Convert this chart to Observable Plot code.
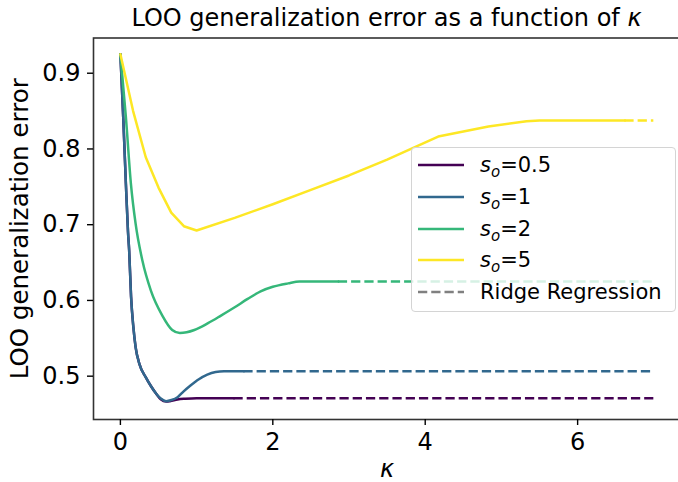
<!DOCTYPE html>
<html>
<head>
<meta charset="utf-8">
<script src="https://cdn.jsdelivr.net/npm/d3@7"></script>
<script src="https://cdn.jsdelivr.net/npm/@observablehq/plot@0.6"></script>
<style>
  html, body { margin: 0; padding: 0; background: #fff; overflow: hidden; }
  body { font-family: "DejaVu Sans", sans-serif; color: #000; }
  #wrap { position: relative; width: 680px; height: 482px; }
  #title { position: absolute; left: 93px; width: 587px; top: 0; height: 36px; line-height: 36px;
           text-align: center; font-size: 24px; white-space: nowrap; }
  #chart { position: absolute; left: 0; top: 30px; }
  #legend { position: absolute; left: 411px; top: 147px; width: 265px; height: 165px; box-sizing: border-box;
            border: 1px solid #d4d4d4; border-radius: 4px; background: rgba(255,255,255,0.8); }
  .row { position: absolute; left: 0; height: 32px; width: 262px; }
  .row svg { position: absolute; left: 6px; top: 0; }
  .row span { position: absolute; left: 68px; top: 0; height: 32px; line-height: 32px; font-size: 21px; white-space: nowrap; }
  .row sub { font-size: 15px; vertical-align: -5px; line-height: 0; }
</style>
</head>
<body>
<div id="wrap">
  <div id="title">LOO generalization error as a function of <i>κ</i></div>
  <div id="chart"></div>
  <div id="legend"></div>
</div>
<script>
// ---- data ----
const seriesLabels = ["0.5", "1", "2", "5"];
const seriesColors = ["#440154", "#31688e", "#35b779", "#fde725"];

const kappa05 = [0, 0.037, 0.072, 0.1, 0.115, 0.14, 0.17, 0.2, 0.25, 0.33, 0.4, 0.47, 0.53, 0.6, 0.65, 0.75, 0.85, 1.0, 1.49];
const err05   = [0.925, 0.842, 0.754, 0.69, 0.666, 0.605, 0.565, 0.538, 0.516, 0.499, 0.487, 0.4768, 0.4695, 0.4665, 0.467, 0.4692, 0.4702, 0.471, 0.471];

const kappa1 = [0, 0.037, 0.072, 0.1, 0.115, 0.14, 0.17, 0.2, 0.25, 0.33, 0.4, 0.47, 0.53, 0.6, 0.67, 0.75, 0.83, 0.92, 1.03, 1.14, 1.25, 1.36, 1.62];
const err1   = [0.925, 0.842, 0.754, 0.69, 0.666, 0.605, 0.565, 0.538, 0.516, 0.499, 0.487, 0.4768, 0.4705, 0.467, 0.4685, 0.4723, 0.48, 0.4877, 0.496, 0.502, 0.5055, 0.5066, 0.5066];

const kappa2 = [0, 0.072, 0.138, 0.2, 0.29, 0.4, 0.55, 0.68, 0.78, 0.87, 0.97, 1.15, 1.32, 1.5, 1.67, 1.84, 2.0, 2.2, 2.35, 2.86];
const err2   = [0.925, 0.842, 0.754, 0.701, 0.652, 0.613, 0.58, 0.561, 0.557, 0.558, 0.561, 0.57, 0.58, 0.591, 0.602, 0.612, 0.618, 0.6225, 0.625, 0.625];

const kappa5 = [0, 0.167, 0.333, 0.5, 0.667, 0.833, 1.0, 1.5, 2.0, 2.5, 3.0, 3.5, 4.17, 4.83, 5.33, 5.5, 6.62];
const err5   = [0.925, 0.85, 0.789, 0.749, 0.716, 0.698, 0.6923, 0.709, 0.727, 0.746, 0.765, 0.786, 0.8164, 0.8296, 0.8366, 0.8375, 0.8375];

// Ridge regression (dashed) levels and where they start
const ridgeValue = [0.471, 0.5066, 0.625, 0.8375];
const ridgeStart = [1.49, 1.62, 2.86, 6.62];
const kappaMax = 7;

const xTicks = [0, 2, 4, 6];
const yTicks = [0.5, 0.6, 0.7, 0.8, 0.9];

// ---- build ----
const kappas = [kappa05, kappa1, kappa2, kappa5];
const errs = [err05, err1, err2, err5];
const curves = ["monotone-x", "monotone-x", "monotone-x", "linear"];

const lineMarks = kappas.map((ks, i) =>
  Plot.line(ks.map((k, j) => ({k, e: errs[i][j]})), {
    x: "k", y: "e", stroke: seriesColors[i], strokeWidth: 2.5, curve: curves[i]
  })
);

const ridgeRows = ridgeValue.map((v, i) => ({v, start: ridgeStart[i], end: kappaMax, c: seriesColors[i]}));

const chart = Plot.plot({
  width: 680, height: 452,
  marginLeft: 93, marginRight: 0, marginTop: 7.5, marginBottom: 63,
  x: {domain: [-0.353, 7.35]},
  y: {domain: [0.4428, 0.9465]},
  color: {type: "identity"},
  style: {fontFamily: "DejaVu Sans", fontSize: "24px", color: "#000", background: "transparent", overflow: "visible"},
  marks: [
    ...lineMarks,
    Plot.ruleY(ridgeRows, {y: "v", x1: "start", x2: "end", stroke: "c", strokeWidth: 2.5, strokeDasharray: "9.25,4"}),
    Plot.frame({stroke: "#333", strokeWidth: 1.6}),
    Plot.axisX({ticks: xTicks, tickSize: 6, tickPadding: 7, strokeWidth: 1.4, fontSize: 24, label: null, tickFormat: d => String(d)}),
    Plot.axisY({ticks: yTicks, tickSize: 6, tickPadding: 7, strokeWidth: 1.4, fontSize: 24, label: null, tickFormat: d3.format(".1f")}),
    Plot.text(["κ"], {text: d => d, frameAnchor: "bottom", lineAnchor: "middle", dy: 50, fontSize: 24, fontStyle: "italic"}),
    Plot.text(["LOO generalization error"], {text: d => d, frameAnchor: "left", textAnchor: "middle", lineAnchor: "middle", dx: -73, rotate: -90, fontSize: 24.5})
  ]
});
document.getElementById("chart").appendChild(chart);

// ---- legend ----
const legend = document.getElementById("legend");
const entries = seriesLabels.map((s, i) => ({html: `<i>s</i><sub><i>o</i></sub>=${s}`, color: seriesColors[i], dash: null}));
entries.push({html: "Ridge Regression", color: "#808080", dash: "9.25,4"});
entries.forEach((en, i) => {
  const row = document.createElement("div");
  row.className = "row";
  row.style.top = (1 + i * 31.75) + "px";
  row.innerHTML = `<svg width="46" height="32"><line x1="0" x2="46" y1="16" y2="16" stroke="${en.color}" stroke-width="2.5" ${en.dash ? `stroke-dasharray="${en.dash}"` : ""}/></svg><span>${en.html}</span>`;
  legend.appendChild(row);
});
</script>
</body>
</html>
